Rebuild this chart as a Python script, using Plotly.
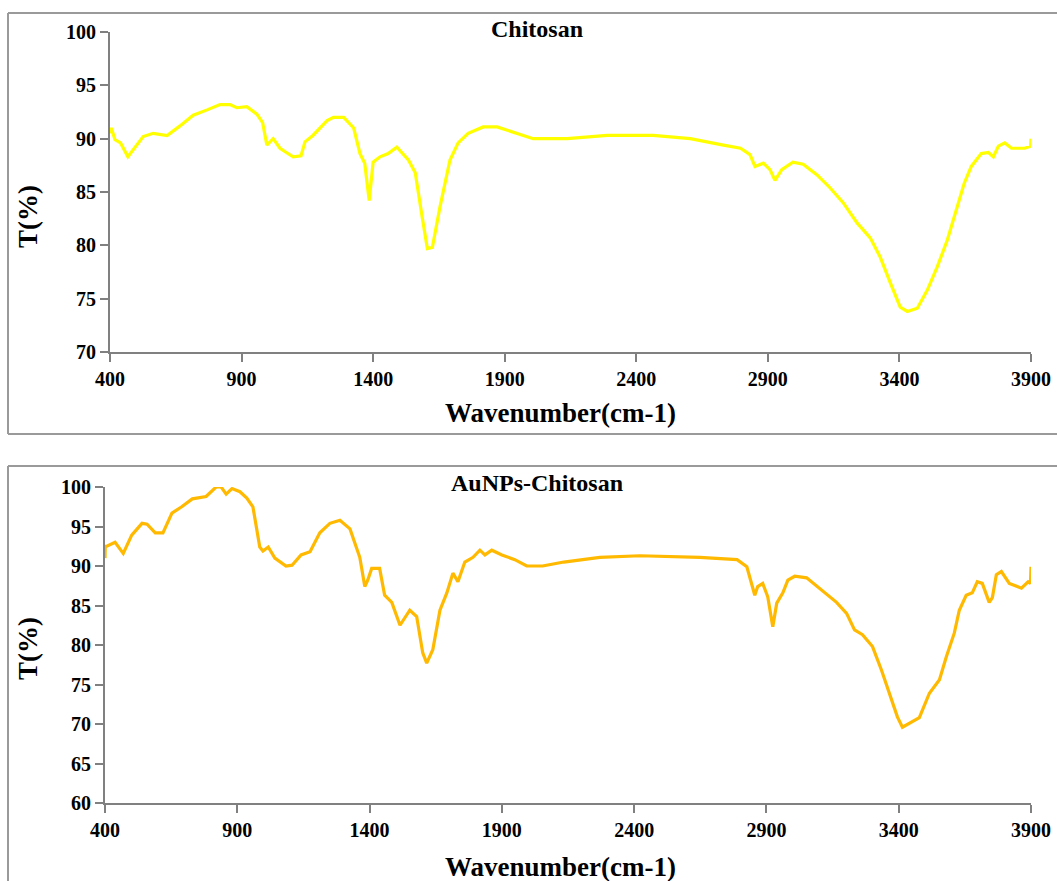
import plotly.graph_objects as go

# ---------------- data ----------------
chitosan_wn = [400, 405, 419, 440, 468, 495, 526, 564, 617, 666, 716, 769, 818, 856, 882, 920, 958,
               980, 996, 1020, 1046, 1070, 1096, 1126, 1141, 1171, 1225, 1249, 1288, 1326, 1350,
               1368, 1385, 1400, 1426, 1457, 1490, 1534, 1560, 1586, 1606, 1625, 1654, 1692, 1723,
               1761, 1818, 1871, 1932, 2008, 2137, 2289, 2464, 2605, 2731, 2796, 2832, 2851, 2883,
               2908, 2927, 2953, 2995, 3034, 3087, 3136, 3186, 3239, 3289, 3327, 3365, 3403, 3430,
               3468, 3506, 3544, 3582, 3620, 3646, 3673, 3711, 3738, 3757, 3776, 3800, 3826, 3876,
               3898, 3900]
chitosan_t = [90.5, 91.0, 89.9, 89.6, 88.3, 89.2, 90.2, 90.5, 90.3, 91.2, 92.2, 92.7, 93.2, 93.2, 92.9,
              93.0, 92.3, 91.5, 89.4, 90.0, 89.1, 88.7, 88.3, 88.4, 89.7, 90.3, 91.7, 92.0, 92.0,
              91.0, 88.6, 87.7, 84.2, 87.8, 88.3, 88.6, 89.2, 88.0, 86.8, 82.7, 79.7, 79.8, 83.6,
              88.0, 89.6, 90.5, 91.1, 91.1, 90.6, 90.0, 90.0, 90.3, 90.3, 90.0, 89.4, 89.1, 88.5,
              87.4, 87.7, 87.1, 86.1, 87.1, 87.8, 87.6, 86.6, 85.4, 84.0, 82.1, 80.7, 78.9, 76.5,
              74.2, 73.8, 74.1, 75.8, 78.0, 80.5, 83.6, 85.8, 87.4, 88.6, 88.7, 88.3, 89.3, 89.6,
              89.1, 89.1, 89.3, 90.0]

auchit_wn = [400, 401, 407, 438, 469, 501, 540, 559, 590, 619, 653, 690, 730, 782, 820, 839, 858,
             880, 910, 936, 959, 985, 997, 1017, 1042, 1084, 1107, 1141, 1175, 1212, 1250, 1288,
             1326, 1363, 1382, 1393, 1408, 1438, 1457, 1484, 1515, 1552, 1578, 1601, 1616, 1639,
             1666, 1692, 1715, 1734, 1760, 1791, 1817, 1836, 1862, 1900, 1949, 1994, 2054, 2134,
             2270, 2421, 2648, 2789, 2826, 2845, 2856, 2867, 2886, 2905, 2924, 2939, 2962, 2981,
             3007, 3052, 3112, 3165, 3203, 3233, 3263, 3301, 3335, 3365, 3395, 3414, 3441, 3478,
             3516, 3554, 3580, 3610, 3629, 3655, 3678, 3697, 3716, 3742, 3754, 3769, 3788, 3818,
             3864, 3889, 3898, 3900]
auchit_t = [91.0, 92.5, 92.5, 93.0, 91.6, 93.9, 95.4, 95.3, 94.2, 94.2, 96.7, 97.5, 98.5, 98.8, 100.0,
            100.0, 99.1, 99.8, 99.4, 98.6, 97.5, 92.4, 91.9, 92.4, 91.0, 90.0, 90.1, 91.4, 91.8,
            94.2, 95.4, 95.8, 94.7, 91.1, 87.4, 88.2, 89.7, 89.7, 86.3, 85.4, 82.5, 84.4, 83.6,
            79.0, 77.7, 79.4, 84.4, 86.6, 89.1, 88.0, 90.5, 91.1, 92.0, 91.4, 92.0, 91.4, 90.8,
            90.0, 90.0, 90.5, 91.1, 91.3, 91.1, 90.8, 89.9, 87.8, 86.3, 87.4, 87.8, 86.1, 82.3,
            85.3, 86.6, 88.2, 88.7, 88.5, 86.8, 85.4, 84.0, 81.9, 81.3, 79.8, 76.8, 73.9, 70.9,
            69.6, 70.1, 70.8, 73.9, 75.6, 78.5, 81.5, 84.4, 86.3, 86.6, 88.0, 87.8, 85.4, 86.0,
            88.9, 89.3, 87.8, 87.2, 88.0, 87.8, 89.9]

x_ticks = [400, 900, 1400, 1900, 2400, 2900, 3400, 3900]
y_ticks_top = [70, 75, 80, 85, 90, 95, 100]
y_ticks_bottom = [60, 65, 70, 75, 80, 85, 90, 95, 100]
titles = ["Chitosan", "AuNPs-Chitosan"]
x_label = "Wavenumber(cm-1)"
y_label = "T(%)"

# ---------------- layout geometry (pixels) ----------------
W, H = 1057, 881
FONT = "Liberation Serif, Times New Roman, serif"
AXCOL = "#808080"


def px(x):
    return x / W


def py(y):
    return 1 - y / H


fig = go.Figure()
fig.add_trace(go.Scatter(x=chitosan_wn, y=chitosan_t, mode="lines",
                         line=dict(color="#FFFF00", width=3.2), xaxis="x", yaxis="y",
                         showlegend=False, hoverinfo="x+y"))
fig.add_trace(go.Scatter(x=auchit_wn, y=auchit_t, mode="lines",
                         line=dict(color="#FFB900", width=3.2), xaxis="x2", yaxis="y2",
                         showlegend=False, hoverinfo="x+y"))

tickfont = dict(family=FONT, size=20, color="#000000", weight="bold")
common_x = dict(range=[400, 3900], tickvals=x_ticks, ticks="outside", ticklen=8, tickwidth=1.5,
                tickcolor=AXCOL, showline=True, linecolor=AXCOL, linewidth=2, showgrid=False,
                zeroline=False, tickfont=tickfont, fixedrange=True, automargin=False)
common_y = dict(ticks="outside", ticklen=8, tickwidth=1.5, tickcolor=AXCOL, showline=True,
                linecolor=AXCOL, linewidth=2, showgrid=False, zeroline=False, tickfont=tickfont,
                fixedrange=True, automargin=False)

fig.update_layout(
    width=W, height=H, autosize=False, margin=dict(l=0, r=0, t=0, b=0, pad=0, autoexpand=False),
    paper_bgcolor="white", plot_bgcolor="white",
    xaxis=dict(domain=[px(110), px(1031)], anchor="y", **common_x),
    yaxis=dict(domain=[py(352), py(32)], anchor="x", range=[70, 100], tickvals=y_ticks_top, **common_y),
    xaxis2=dict(domain=[px(105), px(1031)], anchor="y2", **common_x),
    yaxis2=dict(domain=[py(803), py(487)], anchor="x2", range=[60, 100], tickvals=y_ticks_bottom, **common_y),
)

# frames around each panel
frame = dict(color="#9a9a9a", width=2)
fig.add_shape(type="line", xref="paper", yref="paper", x0=px(8), x1=px(1060), y0=py(13), y1=py(13), line=frame)
fig.add_shape(type="line", xref="paper", yref="paper", x0=px(8), x1=px(1060), y0=py(434), y1=py(434), line=frame)
fig.add_shape(type="line", xref="paper", yref="paper", x0=px(8), x1=px(8), y0=py(13), y1=py(434), line=frame)
fig.add_shape(type="line", xref="paper", yref="paper", x0=px(8), x1=px(1060), y0=py(466), y1=py(466), line=frame)
fig.add_shape(type="line", xref="paper", yref="paper", x0=px(8), x1=px(8), y0=py(466), y1=py(890), line=frame)

# titles and axis labels
title_font = dict(family=FONT, size=24, color="#000000", weight="bold")
label_font = dict(family=FONT, size=27, color="#000000", weight="bold")
ann = [
    dict(text=titles[0], x=px(537), y=py(29), font=title_font),
    dict(text=titles[1], x=px(537), y=py(483), font=title_font),
    dict(text=x_label, x=px(560), y=py(413), font=label_font),
    dict(text=x_label, x=px(560), y=py(867), font=label_font),
    dict(text=y_label, x=px(28), y=py(217), font=label_font, textangle=-90),
    dict(text=y_label, x=px(28), y=py(649), font=label_font, textangle=-90),
]
for a in ann:
    fig.add_annotation(xref="paper", yref="paper", showarrow=False, xanchor="center", yanchor="middle", **a)

fig.write_html("out.html", config={"responsive": False},
               post_script="document.body.style.margin='0';document.body.style.overflow='hidden';")
